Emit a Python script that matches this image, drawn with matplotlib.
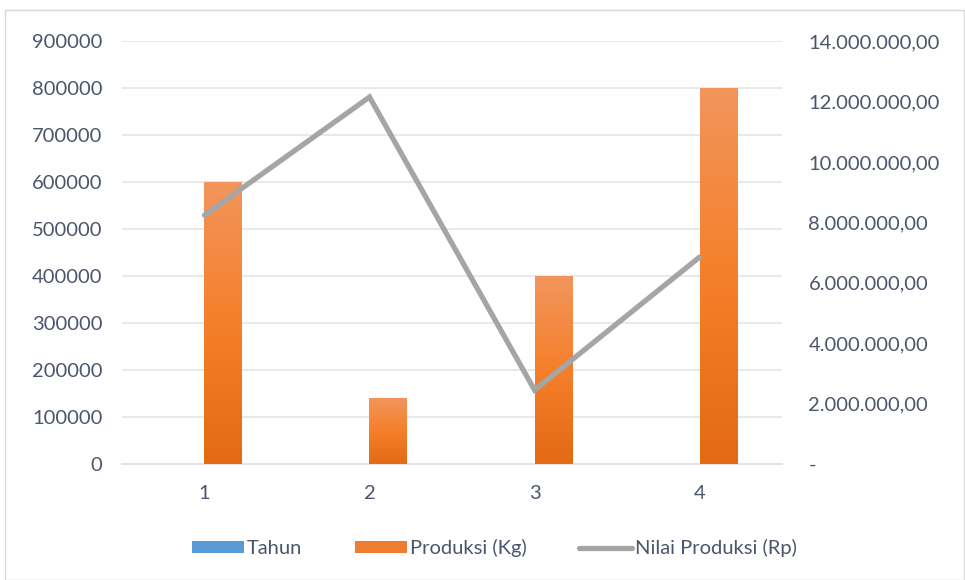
import numpy as np
import matplotlib.pyplot as plt
from matplotlib.patches import Rectangle
from matplotlib.ticker import FuncFormatter
from matplotlib.colors import LinearSegmentedColormap

plt.rcParams['font.family'] = ['Lato', 'DejaVu Sans']

categories = ['1', '2', '3', '4']
tahun = [2017, 2018, 2019, 2020]
produksi = [600000, 140000, 400000, 800000]
nilai = [8240000, 12150000, 2450000, 6850000]

text_col = '#4A566B'
grid_col = '#E1E5EA'
fs = 14.5

fig = plt.figure(figsize=(9.65, 5.8), dpi=100)
# chart border
fig.patches.append(Rectangle((5 / 965, 0), 0.999 - 5 / 965, 1 - 10 / 580,
                             transform=fig.transFigure, fill=False,
                             edgecolor='#D9D9D9', linewidth=1))

ax = fig.add_axes([0.1264, 0.2, 0.684, 0.729])
x = np.arange(len(categories))
w = 0.225

ax.bar(x - w / 2, tahun, w, color='#5B9BD5', label='Tahun', zorder=2)
bars = ax.bar(x + w / 2, produksi, w, color='#ED7D31', label='Produksi (Kg)', zorder=2)

# gradient fill for orange bars
grad = np.linspace(0, 1, 256).reshape(-1, 1)
cmap = LinearSegmentedColormap.from_list('og', ['#E46A14', '#F57F2A', '#F2955C'])
for b in bars:
    bx, by = b.get_x(), b.get_y()
    bw, bh = b.get_width(), b.get_height()
    im = ax.imshow(grad, extent=[bx, bx + bw, by, by + bh], origin='lower',
                   aspect='auto', cmap=cmap, zorder=3)
    im.set_clip_path(b)

ax.set_xlim(-0.5, 3.5)
ax.set_ylim(0, 900000)
ax.set_yticks(np.arange(0, 900001, 100000))
ax.set_xticks(x)
ax.set_xticklabels(categories)
ax.grid(axis='y', color=grid_col, linewidth=1.2, zorder=0)
for s in ['top', 'right', 'left']:
    ax.spines[s].set_visible(False)
ax.spines['bottom'].set_color(grid_col)
ax.spines['bottom'].set_linewidth(1.5)
ax.tick_params(axis='both', length=0, labelsize=fs, colors=text_col)
ax.tick_params(axis='y', pad=14)
ax.tick_params(axis='x', pad=15)

ax2 = ax.twinx()
ax2.plot(x, nilai, color='#A5A5A5', linewidth=3.8, solid_capstyle='round',
         solid_joinstyle='miter', label='Nilai Produksi (Rp)', zorder=4)
ax2.set_ylim(0, 14000000)
ax2.set_yticks(np.arange(0, 14000001, 2000000))


def rp(v, pos):
    if v == 0:
        return '-'
    return f'{v:,.2f}'.replace(',', 'X').replace('.', ',').replace('X', '.')


ax2.yaxis.set_major_formatter(FuncFormatter(rp))
for s in ax2.spines.values():
    s.set_visible(False)
ax2.tick_params(axis='y', length=0, labelsize=fs, colors=text_col, pad=19)

h1, l1 = ax.get_legend_handles_labels()
h2, l2 = ax2.get_legend_handles_labels()
fig.legend(h1 + h2, l1 + l2, loc='center', bbox_to_anchor=(0.512, 0.055),
           ncol=3, frameon=False, fontsize=fs, labelcolor=text_col,
           handlelength=2.6, handleheight=0.55, handletextpad=0.15,
           columnspacing=2.6)

fig.savefig('out.png', dpi=100)
